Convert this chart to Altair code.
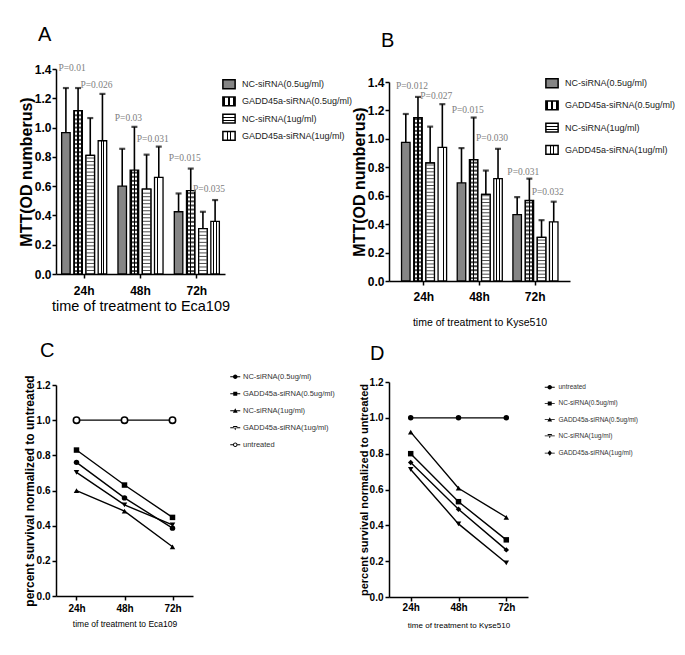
import altair as alt
import pandas as pd

TIMES = ["24h", "48h", "72h"]
SERIES = ["NC-siRNA(0.5ug/ml)", "GADD45a-siRNA(0.5ug/ml)", "NC-siRNA(1ug/ml)", "GADD45a-siRNA(1ug/ml)"]
UNTREATED = "untreated"

# Panel A (Eca109) MTT values and upper error bars
A_MEAN_NC05 = [0.965, 0.60, 0.425]
A_MEAN_GADD05 = [1.115, 0.71, 0.57]
A_MEAN_NC1 = [0.81, 0.58, 0.31]
A_MEAN_GADD1 = [0.91, 0.66, 0.36]
A_UP_NC05 = [1.27, 0.855, 0.55]
A_UP_GADD05 = [1.27, 1.005, 0.72]
A_UP_NC1 = [1.065, 0.815, 0.425]
A_UP_GADD1 = [1.23, 0.87, 0.505]
A_P_TIME = ["24h", "24h", "48h", "48h", "72h", "72h"]
A_P_ANCHOR = [SERIES[1], SERIES[3], SERIES[1], SERIES[3], SERIES[1], SERIES[3]]
A_P_Y = [1.41, 1.29, 1.065, 0.925, 0.79, 0.58]
A_P_TEXT = ["P=0.01", "P=0.026", "P=0.03", "P=0.031", "P=0.015", "P=0.035"]

# Panel B (Kyse510)
B_MEAN_NC05 = [0.975, 0.69, 0.467]
B_MEAN_GADD05 = [1.15, 0.853, 0.567]
B_MEAN_NC1 = [0.83, 0.61, 0.307]
B_MEAN_GADD1 = [0.94, 0.72, 0.416]
B_UP_NC05 = [1.175, 0.935, 0.59]
B_UP_GADD05 = [1.295, 1.15, 0.72]
B_UP_NC1 = [1.086, 0.777, 0.428]
B_UP_GADD1 = [1.244, 0.93, 0.558]
B_P_TIME = ["24h", "24h", "48h", "48h", "72h", "72h"]
B_P_ANCHOR = [SERIES[1], SERIES[3], SERIES[1], SERIES[3], SERIES[1], SERIES[3]]
B_P_Y = [1.375, 1.305, 1.205, 1.005, 0.765, 0.625]
B_P_TEXT = ["P=0.012", "P=0.027", "P=0.015", "P=0.030", "P=0.031", "P=0.032"]

# Panel C (Eca109) survival normalized to untreated
C_ORDER = [SERIES[0], SERIES[1], SERIES[2], SERIES[3], UNTREATED]
C_NC05 = [0.76, 0.558, 0.386]
C_GADD05 = [0.83, 0.631, 0.447]
C_NC1 = [0.599, 0.483, 0.28]
C_GADD1 = [0.703, 0.518, 0.404]
C_UNTREATED = [1.0, 1.0, 1.0]

# Panel D (Kyse510)
D_ORDER = [UNTREATED, SERIES[0], SERIES[1], SERIES[2], SERIES[3]]
D_UNTREATED = [1.0, 1.0, 1.0]
D_NC05 = [0.80, 0.532, 0.319]
D_GADD05 = [0.92, 0.607, 0.445]
D_NC1 = [0.712, 0.408, 0.19]
D_GADD1 = [0.751, 0.49, 0.263]

NARROW = "Liberation Sans Narrow, Arial Narrow, Liberation Sans, sans-serif"
SANS = "Liberation Sans, Arial, sans-serif"
SERIF = "Liberation Serif, Times New Roman, serif"


def band_gradient(bg, fg, edges, along_x):
    stops = [(0, bg)]
    for a, b in edges:
        stops += [(a, bg), (a, fg), (b, fg), (b, bg)]
    stops.append((1, bg))
    x2, y2 = (1, 0) if along_x else (0, 1)
    s = ",".join("{offset:%s,color:'%s'}" % (o, c) for o, c in stops)
    return {"expr": "{gradient:'linear',x1:0,y1:0,x2:%d,y2:%d,stops:[%s]}" % (x2, y2, s)}


FILL_RANGE = [
    "#858585",
    band_gradient("black", "white", [(0.16, 0.42), (0.58, 0.84)], True),
    band_gradient("white", "black", [(0.28, 0.4), (0.6, 0.72)], False),
    band_gradient("white", "black", [(0.3, 0.4), (0.6, 0.7)], True),
]


def title(letter, dx, offset):
    return alt.TitleParams(letter, anchor="start", frame="group", dx=dx, offset=offset,
                           fontSize=20, fontWeight="normal", font=SANS, color="black")


def bar_panel(means, ups, p_time, p_anchor, p_y, p_text, letter, xtitle, width, height,
              top_gap, pad_outer, title_dx, title_offset, legend_x, legend_y, row_pad,
              xtitle_size, xlabel_pad, xtitle_pad, paint_channel):
    # the colour-channel panel uses its own legend keys (trimmed back in the labels)
    suffix = " " if paint_channel == "color" else ""
    keys = [s + suffix for s in SERIES]
    rows = []
    for si, s in enumerate(SERIES):
        for ti, t in enumerate(TIMES):
            rows.append({"time": t, "series": s, "grp": keys[si],
                         "value": means[si][ti], "upper": ups[si][ti]})
    df = pd.DataFrame(rows)
    pdf = pd.DataFrame({"time": p_time, "anchor": p_anchor, "py": p_y, "label": p_text})

    xscale = alt.Scale(domain=TIMES, paddingInner=0.2, paddingOuter=pad_outer)
    xaxis = alt.Axis(title=xtitle, labelAngle=0, labelFontSize=12, labelPadding=xlabel_pad,
                     titleFontSize=xtitle_size, titleFont=SANS, titleFontWeight="normal",
                     titlePadding=xtitle_pad)
    x = alt.X("time:N", sort=TIMES, scale=xscale, axis=xaxis)
    xo_scale = alt.Scale(domain=SERIES, paddingInner=0.3, paddingOuter=0)
    xo = alt.XOffset("series:N", sort=SERIES, scale=xo_scale)
    total_h = height + top_gap
    yscale = alt.Scale(domain=[0, 1.4], nice=False, range=[total_h, top_gap])
    yaxis = alt.Axis(title="MTT(OD numberus)", values=[0, 0.2, 0.4, 0.6, 0.8, 1.0, 1.2, 1.4],
                     format=".1f", labelFontSize=12, labelPadding=1, titleFontSize=16,
                     titleFont=SANS, titleFontWeight="bold", titlePadding=0)

    def Y(field):
        return alt.Y(field, scale=yscale, axis=yaxis)

    legend = alt.Legend(title=None, orient="none", legendX=legend_x, legendY=legend_y,
                        symbolType="M-1,-0.72H1V0.72H-1Z", symbolSize=150,
                        symbolStrokeColor="black", symbolStrokeWidth=1.5, labelFont=SANS,
                        labelFontSize=9, labelColor="#222", labelFontWeight="normal",
                        rowPadding=row_pad, labelOffset=6, labelExpr="trim(datum.label)")
    paint_scale = alt.Scale(domain=keys, range=FILL_RANGE)
    if paint_channel == "fill":
        paint = alt.Fill("grp:N", sort=keys, scale=paint_scale, legend=legend)
        bars = alt.Chart(df).mark_bar(stroke="black", strokeWidth=1.3).encode(
            x=x, xOffset=xo, y=Y("value:Q"), fill=paint)
    else:
        paint = alt.Color("grp:N", sort=keys, scale=paint_scale, legend=legend)
        bars = alt.Chart(df).mark_bar(stroke="black", strokeWidth=1.3).encode(
            x=x, xOffset=xo, y=Y("value:Q"), color=paint)
    nc1 = alt.Chart(df).transform_filter(alt.datum.series == SERIES[2]).mark_bar(
        fill="white", stroke="black", strokeWidth=1.3).encode(x=x, xOffset=xo, y=Y("value:Q"))
    stripes = alt.Chart(df).transform_filter(alt.datum.series == SERIES[2]).transform_calculate(
        s="sequence(0.024, datum.value - 0.008, 0.024)").transform_flatten(["s"]).mark_tick(
        color="black", thickness=1, size=7.5).encode(x=x, xOffset=xo, y=Y("s:Q"))
    checks = alt.Chart(df).transform_filter(alt.datum.series == SERIES[1]).transform_calculate(
        s="sequence(0.02, datum.value - 0.008, 0.028)").transform_flatten(["s"]).mark_tick(
        color="black", thickness=2, size=7.5).encode(x=x, xOffset=xo, y=Y("s:Q"))
    err = alt.Chart(df).mark_rule(color="black", strokeWidth=1.6).encode(
        x=x, xOffset=xo, y=Y("value:Q"), y2="upper:Q")
    cap = alt.Chart(df).mark_tick(color="black", thickness=2.2, size=6).encode(
        x=x, xOffset=xo, y=Y("upper:Q"))
    ptext = alt.Chart(pdf).mark_text(font=SERIF, fontSize=9.5, color="#808080", dx=-6).encode(
        x=x, xOffset=alt.XOffset("anchor:N", sort=SERIES, scale=xo_scale),
        y=Y("py:Q"), text="label:N")

    return alt.layer(bars, nc1, stripes, checks, err, cap, ptext).properties(
        width=width, height=total_h, title=title(letter, title_dx, title_offset))


CIRCLE = "M-0.9,0A0.9,0.9 0 1,1 0.9,0A0.9,0.9 0 1,1 -0.9,0Z"
LINE = "M-2,-0.16H2V0.16H-2Z"
PATHS = {
    "circle": LINE + CIRCLE,
    "open": "M-2,-0.16H-0.9V0.16H-2Z M0.9,-0.16H2V0.16H0.9Z " + CIRCLE +
            " M-0.5,0A0.5,0.5 0 1,0 0.5,0A0.5,0.5 0 1,0 -0.5,0Z",
    "square": LINE + "M-0.8,-0.8H0.8V0.8H-0.8Z",
    "triangle-up": LINE + "M0,-1L0.95,0.75H-0.95Z",
    "triangle-down": LINE + "M0,1L0.95,-0.75H-0.95Z",
    "diamond": LINE + "M0,-1.1L0.9,0L0,1.1L-0.9,0Z",
}


def line_panel(order, values, shapes, legend_keys, open_series, letter, xtitle, width, height,
               pad, title_dx, title_offset, legend_x, legend_y, row_pad, legend_font,
               label_offset, ytitle_size, xtitle_size, xlabel_pad, xtitle_pad):
    rows = []
    for s, vals in zip(order, values):
        for t, v in zip(TIMES, vals):
            rows.append({"time": t, "series": s, "value": v})
    df = pd.DataFrame(rows)
    x = alt.X("time:O", sort=TIMES, scale=alt.Scale(type="point", padding=pad),
              axis=alt.Axis(title=xtitle, labelAngle=0, labelFontSize=10,
                            labelPadding=xlabel_pad, titleFontSize=xtitle_size, titleFont=SANS,
                            titleFontWeight="normal", titlePadding=xtitle_pad))
    y = alt.Y("value:Q", scale=alt.Scale(domain=[0, 1.2], nice=False),
              axis=alt.Axis(title="percent survival normalized to untreated",
                            values=[0, 0.2, 0.4, 0.6, 0.8, 1.0, 1.2], format=".1f",
                            labelFontSize=10, labelPadding=2, titleFontSize=ytitle_size,
                            titleFont=SANS, titleFontWeight="bold", titlePadding=0))
    filled = [s for s in order if s not in open_series]
    layers = [
        alt.Chart(df).mark_line(color="black", strokeWidth=1.4).encode(
            x=x, y=y, detail="series:N"),
        alt.Chart(df).transform_filter(alt.FieldOneOfPredicate(field="series", oneOf=filled))
        .mark_point(filled=True, color="black", size=30, opacity=1).encode(
            x=x, y=y, shape=alt.Shape("series:N", scale=alt.Scale(domain=order, range=shapes),
                                      legend=None)),
    ]
    if open_series:
        layers.append(
            alt.Chart(df).transform_filter(
                alt.FieldOneOfPredicate(field="series", oneOf=open_series))
            .mark_point(shape="circle", filled=False, fill="white", stroke="black",
                        strokeWidth=1.6, size=40, opacity=1).encode(x=x, y=y))
    layers.append(
        alt.Chart(df).mark_point(filled=True, color="black", opacity=0, size=25).encode(
            x=x, y=y,
            shape=alt.Shape("series:N",
                            scale=alt.Scale(domain=order, range=[PATHS[k] for k in legend_keys]),
                            legend=alt.Legend(title=None, orient="none", legendX=legend_x,
                                              legendY=legend_y, symbolOpacity=1, symbolSize=25,
                                              symbolFillColor="black",
                                              symbolStrokeColor="black",
                                              symbolStrokeWidth=0.3, labelFont=NARROW,
                                              labelFontSize=legend_font, labelColor="#333",
                                              labelFontWeight="normal", rowPadding=row_pad,
                                              labelOffset=label_offset))))
    return alt.layer(*layers).resolve_scale(shape="independent").properties(
        width=width, height=height, title=title(letter, title_dx, title_offset))


A = bar_panel([A_MEAN_NC05, A_MEAN_GADD05, A_MEAN_NC1, A_MEAN_GADD1],
              [A_UP_NC05, A_UP_GADD05, A_UP_NC1, A_UP_GADD1],
              A_P_TIME, A_P_ANCHOR, A_P_Y, A_P_TEXT, "A", "time of treatment to Eca109",
              169, 205, 0, 0.1, -18, 18, 166, 8.25, 1.2, 14.5, 7, 3, "fill")
# B's legend is laid out at the top level (shared colour scale), relative to A's plot origin
B = bar_panel([B_MEAN_NC05, B_MEAN_GADD05, B_MEAN_NC1, B_MEAN_GADD1],
              [B_UP_NC05, B_UP_GADD05, B_UP_NC1, B_UP_GADD1],
              B_P_TIME, B_P_ANCHOR, B_P_Y, B_P_TEXT, "B", "time of treatment to Kyse510",
              181, 199, 13, 0.225, -8, 18, 489, 7.25, 6.2, 10.5, 6, 15.5, "color")
C = line_panel(C_ORDER, [C_NC05, C_GADD05, C_NC1, C_GADD1, C_UNTREATED],
               ["circle", "square", "triangle-up", "triangle-down", "circle"],
               ["circle", "square", "triangle-up", "triangle-down", "open"], [UNTREATED],
               "C", "time of treatment to Eca109", 137, 211, 0.427, -16, 12,
               175.5, -12, 8, 7.5, 4, 12, 8.5, 3, 6.5)
D = line_panel(D_ORDER, [D_UNTREATED, D_NC05, D_GADD05, D_NC1, D_GADD1],
               ["circle", "square", "triangle-up", "triangle-down", "diamond"],
               ["circle", "square", "triangle-up", "triangle-down", "diamond"], [],
               "D", "time of treatment to Kyse510", 139, 215, 0.454, -19, 13,
               157.5, 2, 9.2, 6.5, 5.5, 11, 8, 1, 9)

chart = alt.hconcat(
    alt.vconcat(A, C, spacing=28),
    alt.vconcat(B, D, spacing=16),
    spacing=15,
).properties(padding={"left": 10, "top": 16, "right": 0, "bottom": 0}).configure_view(
    stroke=None
).configure_axis(
    domainColor="black", domainWidth=1.5, tickColor="black", tickWidth=1.5, tickSize=4,
    labelFont=NARROW, labelFontWeight="bold", labelColor="black", titleColor="black",
    grid=False
)

chart.save("out.html", embed_options={"renderer": "svg", "actions": False})
